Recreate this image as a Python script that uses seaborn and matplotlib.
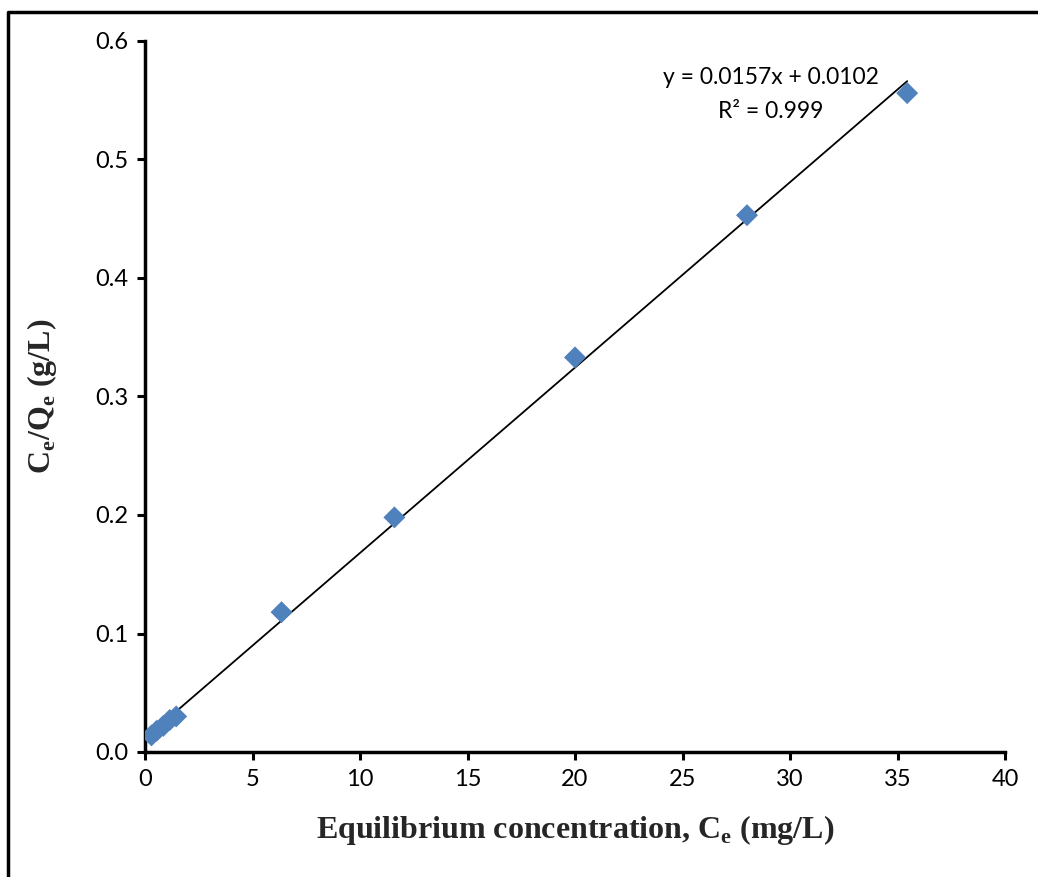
import matplotlib
matplotlib.use("Agg")
import matplotlib.pyplot as plt
import seaborn as sns
import pandas as pd
import numpy as np
from matplotlib.lines import Line2D

# Data
ce = [0.30, 0.55, 0.85, 1.15, 1.45, 6.35, 11.6, 20.0, 28.0, 35.45]
ce_qe = [0.014, 0.018, 0.022, 0.027, 0.030, 0.118, 0.198, 0.333, 0.453, 0.556]
x_ticks = [0, 5, 10, 15, 20, 25, 30, 35, 40]
y_ticks = [0.0, 0.1, 0.2, 0.3, 0.4, 0.5, 0.6]
eq_text = "y = 0.0157x + 0.0102"
r2_text = "R² = 0.999"

df = pd.DataFrame({"Ce": ce, "CeQe": ce_qe})

sns.set_theme(style="ticks")
plt.rcParams["font.family"] = ["Lato", "DejaVu Sans"]

fig = plt.figure(figsize=(10.38, 8.77), dpi=100)
ax = fig.add_axes([145/1038, 1-752/877, (1005-145)/1038, (752-41)/877])

sns.regplot(data=df, x="Ce", y="CeQe", scatter=False, ci=None, ax=ax,
            line_kws=dict(color="black", lw=1.3), truncate=True)
sns.scatterplot(data=df, x="Ce", y="CeQe", marker="D", s=125, color="#4F81BD",
                edgecolor="none", linewidth=0, ax=ax, zorder=3)

ax.set_xlim(0, 40)
ax.set_ylim(0, 0.6)
ax.set_xticks(x_ticks)
ax.set_yticks(y_ticks)
ax.set_xticklabels([str(v) for v in x_ticks])
ax.set_yticklabels([f"{v:.1f}" for v in y_ticks])
ax.tick_params(axis="both", direction="out", length=6, width=2.2, labelsize=17,
               colors="black", pad=6)
for side in ["top", "right"]:
    ax.spines[side].set_visible(False)
for side in ["left", "bottom"]:
    ax.spines[side].set_linewidth(2.5)
    ax.spines[side].set_color("black")

ax.set_xlabel(r"Equilibrium concentration, C$_\mathregular{e}$ (mg/L)",
              fontfamily="Liberation Serif", fontweight="bold", fontsize=23, labelpad=17)
ax.set_ylabel(r"C$_\mathregular{e}$/Q$_\mathregular{e}$ (g/L)",
              fontfamily="Liberation Serif", fontweight="bold", fontsize=23, labelpad=26)

ax.text(771/1038, 1-78/877, eq_text, transform=fig.transFigure, ha="center",
        va="center", fontsize=16.5, color="black")
ax.text(771/1038, 1-112/877, r2_text, transform=fig.transFigure, ha="center",
        va="center", fontsize=16.5, color="black")

# outer frame (partially visible in reference)
fig.add_artist(Line2D([8/1038, 8/1038, 1.0], [0.0, 1-12/877, 1-12/877],
                      transform=fig.transFigure, color="black", lw=2.5))

fig.savefig("out.png", dpi=100)
